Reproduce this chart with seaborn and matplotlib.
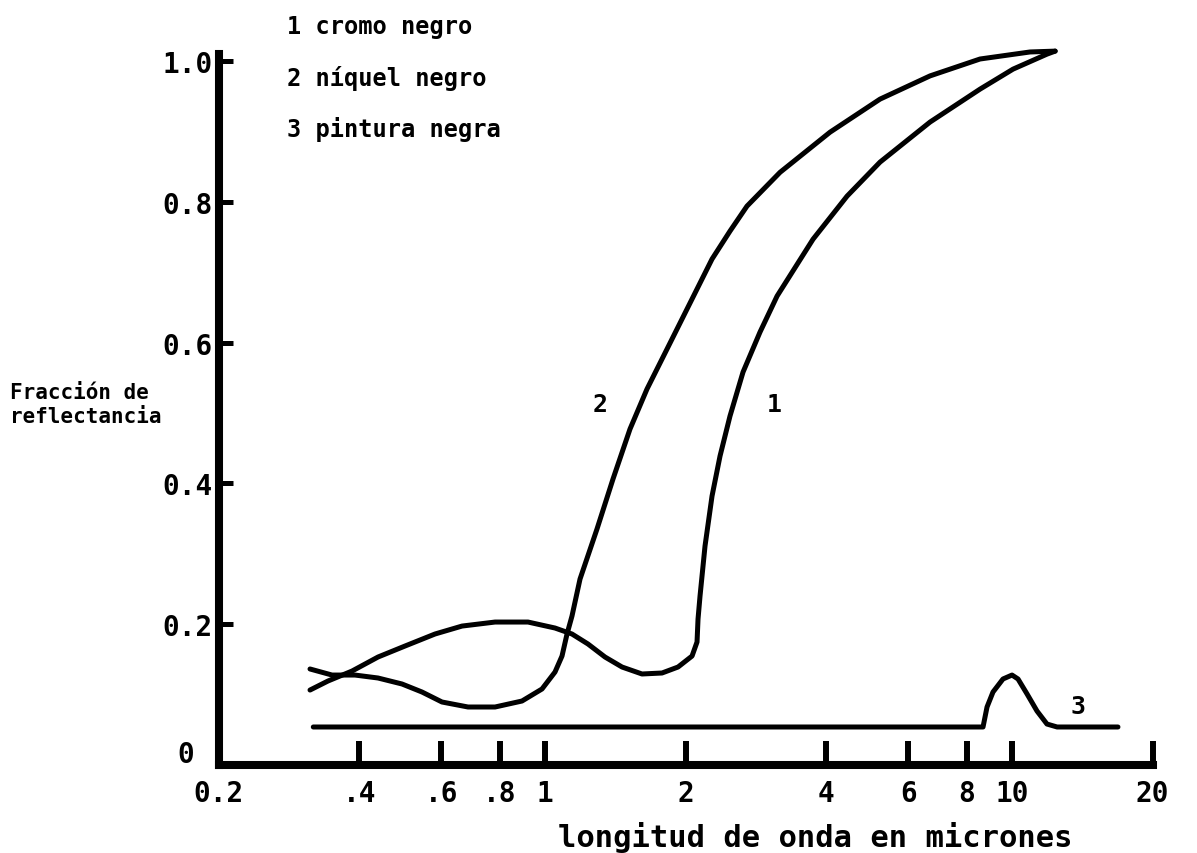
import numpy as np
import pandas as pd
import matplotlib
matplotlib.use("Agg")
import matplotlib.pyplot as plt
import matplotlib.transforms as mtransforms
from matplotlib.ticker import NullLocator
import seaborn as sns

# ---------------- data ----------------
wl_cromo = [0.3139, 0.3429, 0.3862, 0.4389, 0.5013, 0.5813, 0.6643, 0.7817, 0.9196,
            1.0505, 1.1422, 1.2360, 1.3443, 1.4619, 1.6132, 1.7805, 1.9268, 2.0645,
            2.1159, 2.1264, 2.1475, 2.2010, 2.2784, 2.3700, 2.4894, 2.6546, 2.8867,
            3.1399, 3.749, 4.434, 5.216, 6.675, 8.541, 10.05, 11.88, 12.37]
r_cromo = [0.1065, 0.1193, 0.1335, 0.1534, 0.1690, 0.1861, 0.1974, 0.2031, 0.2031,
           0.1946, 0.1861, 0.1719, 0.1534, 0.1392, 0.1293, 0.1307, 0.1392, 0.1548,
           0.1747, 0.2074, 0.2401, 0.3111, 0.3821, 0.4389, 0.4957, 0.5582, 0.6151,
           0.6662, 0.747, 0.8082, 0.8565, 0.9134, 0.9602, 0.9886, 1.0099, 1.0142]

wl_niquel = [0.3139, 0.3499, 0.3918, 0.4389, 0.4940, 0.5452, 0.6017, 0.6841, 0.7817,
             0.8927, 0.9853, 1.0505, 1.0874, 1.1146, 1.1422, 1.1884, 1.2920, 1.3982,
             1.5205, 1.6533, 1.8249, 2.0139, 2.2784, 2.4894, 2.707, 3.186, 4.076,
             5.216, 6.675, 8.541, 10.93, 12.37]
r_niquel = [0.1364, 0.1278, 0.1278, 0.1236, 0.1151, 0.1037, 0.0895, 0.0824, 0.0824,
            0.0909, 0.1080, 0.1321, 0.1548, 0.1861, 0.2116, 0.2642, 0.3352, 0.4063,
            0.4773, 0.5341, 0.5909, 0.6477, 0.7188, 0.7585, 0.794, 0.842, 0.899,
            0.946, 0.979, 1.003, 1.013, 1.0142]

wl_pintura = [0.319, 8.668, 8.841, 9.105, 9.565, 10.0, 10.30, 10.77, 11.31, 11.88,
              12.49, 16.86]
r_pintura = [0.054, 0.054, 0.0824, 0.1037, 0.1222, 0.1278, 0.1222, 0.1009, 0.0767,
             0.0582, 0.054, 0.054]

x_ticks = [0.2, 0.4, 0.6, 0.8, 1, 2, 4, 6, 8, 10, 20]
x_tick_labels = ["0.2", ".4", ".6", ".8", "1", "2", "4", "6", "8", "10", "20"]
y_ticks = [0, 0.2, 0.4, 0.6, 0.8, 1.0]
y_tick_labels = ["0", "0.2", "0.4", "0.6", "0.8", "1.0"]

legend_lines = ["1 cromo negro", "2 níquel negro", "3 pintura negra"]
curve_ids = ["1", "2", "3"]
label_pos_x = [3.093, 1.311, 13.85]
label_pos_y = [0.513, 0.513, 0.084]

x_label = "longitud de onda en micrones"
y_label = "Fracción de\nreflectancia"

# ---------------- style ----------------
sns.set_theme(style="white")
plt.rcParams["font.family"] = ["DejaVu Sans Mono", "DejaVu Sans"]
plt.rcParams["font.weight"] = "bold"

fig = plt.figure(figsize=(11.97, 8.54), dpi=100)
ax = fig.add_axes([0.18262, 0.10304, 0.78029, 0.84895])

series = [(wl_cromo, r_cromo), (wl_niquel, r_niquel), (wl_pintura, r_pintura)]
for wl, r in series:
    df = pd.DataFrame({"wl": wl, "r": r})
    sns.lineplot(data=df, x="wl", y="r", sort=False, estimator=None,
                 color="black", lw=3.6, ax=ax, clip_on=False)

ax.set_xscale("log")
ax.set_xlim(0.2, 20)
ax.set_ylim(0, 1.03)
ax.xaxis.set_minor_locator(NullLocator())
ax.yaxis.set_minor_locator(NullLocator())
ax.set_xticks(x_ticks)
ax.set_xticklabels(x_tick_labels)
ax.set_yticks(y_ticks)
ax.set_yticklabels(y_tick_labels)

for s in ["top", "right"]:
    ax.spines[s].set_visible(False)
for s in ["left", "bottom"]:
    ax.spines[s].set_linewidth(5.8)
    ax.spines[s].set_color("black")
    ax.spines[s].set_capstyle("projecting")
ax.spines["left"].set_bounds(0, 1.01)
ax.spines["bottom"].set_bounds(0.2, 20)

ax.tick_params(axis="x", which="major", bottom=True, direction="in", length=17,
               width=4.3, pad=10, labelsize=20, colors="black")
ax.tick_params(axis="y", which="major", left=True, direction="in", length=10,
               width=3.6, pad=4, labelsize=20, colors="black")
for t in ax.get_xticklabels() + ax.get_yticklabels():
    t.set_fontweight("bold")

# the "0" label sits a little higher and further left in the reference
zero_lbl = ax.get_yticklabels()[0]
zero_lbl.set_transform(zero_lbl.get_transform() +
                       mtransforms.ScaledTranslation(-0.19, 0.14, fig.dpi_scale_trans))

ax.set_xlabel(x_label, fontsize=22, fontweight="bold", color="black")
ax.xaxis.set_label_coords(0.6385, -0.0993)
ax.xaxis.label.set_va("center")

ax.set_ylabel(y_label, fontsize=15, fontweight="bold", rotation=0,
              ha="left", va="center", color="black", linespacing=1.3)
ax.yaxis.set_label_coords(-0.2233, 0.498)

legend_y = [1.0193, 0.9476, 0.8786]
for txt, yy in zip(legend_lines, legend_y):
    ax.text(0.0732, yy, txt, transform=ax.transAxes, fontsize=17,
            fontweight="bold", ha="left", va="center", color="black")

for cid, xx, yy in zip(curve_ids, label_pos_x, label_pos_y):
    ax.text(xx, yy, cid, fontsize=18, fontweight="bold", ha="center",
            va="center", color="black")

ax.set_facecolor("white")
fig.patch.set_facecolor("white")
fig.savefig("out.png", dpi=100, facecolor="white")
